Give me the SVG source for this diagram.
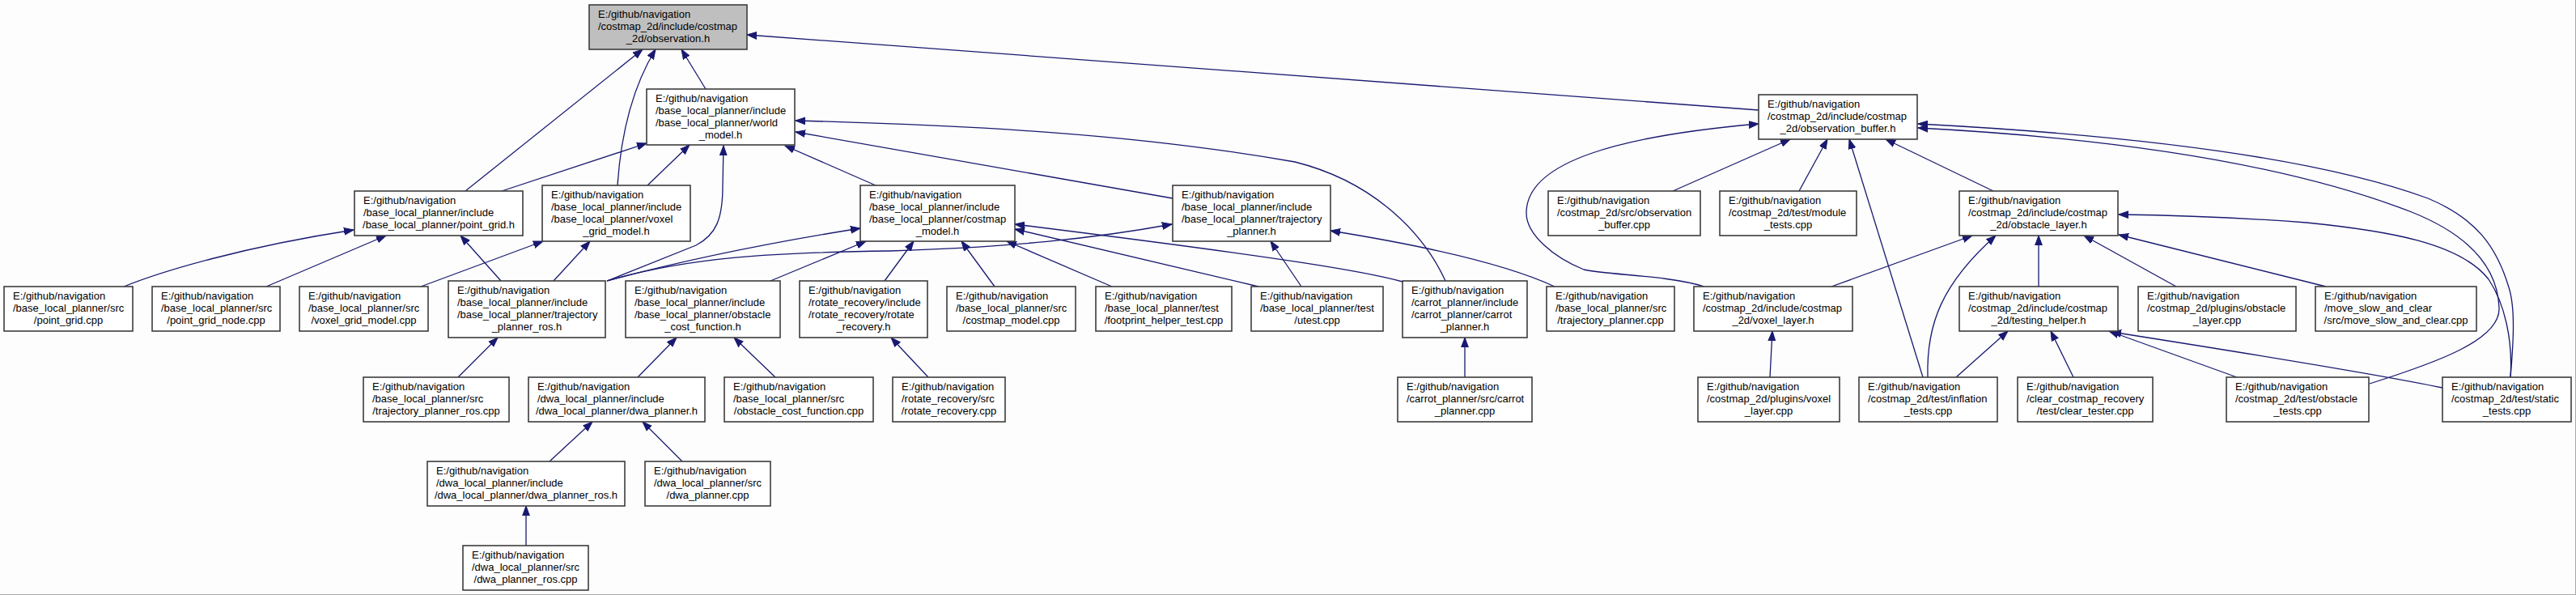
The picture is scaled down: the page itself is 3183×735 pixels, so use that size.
<svg xmlns="http://www.w3.org/2000/svg" width="3183" height="735" viewBox="0 0 3183 735">
<defs>
<style>
.bg{fill:#fcfdfc}
.node rect{fill:#ffffff;stroke:#3c3c3c;stroke-width:1.6}
#n0 rect{fill:#bfbfbf}
.node text{font-family:"Liberation Sans",Arial,Helvetica,sans-serif;font-size:13px;fill:#000}
.node text.c{text-anchor:middle}
#edges path{fill:none;stroke:#191970;stroke-width:1.3;marker-end:url(#ah)}
</style>
<marker id="ah" markerUnits="userSpaceOnUse" viewBox="0 0 13 10" markerWidth="13" markerHeight="10" refX="12" refY="5" orient="auto">
<path d="M0,0.6 L12,5 L0,9.4 z" fill="#191970" stroke="#191970" stroke-width="1"/>
</marker>
</defs>
<rect class="bg" x="0" y="0" width="3183" height="735"/>
<line x1="0" y1="734.5" x2="3183" y2="734.5" stroke="#a8a8a8" stroke-width="1"/>
<line x1="3182.5" y1="0" x2="3182.5" y2="735" stroke="#a8a8a8" stroke-width="1"/>

<g id="edges">
<path d="M575,236 L794,61"/>
<path d="M763,229 C767,170 780,110 810,61"/>
<path d="M872,110 L842,61"/>
<path d="M2173,136 L923,43"/>
<path d="M620,236 L799,177"/>
<path d="M800,229 L852,179"/>
<path d="M750,347 L860,303 C885,290 893,270 893,230 L894,180"/>
<path d="M1082,229 L970,180"/>
<path d="M1449,245 L983,163"/>
<path d="M1786,347 C1760,290 1700,225 1600,200 C1400,165 1200,155 983,149"/>
<path d="M952,347 L1070,298"/>
<path d="M1093,347 L1129,298"/>
<path d="M1229,354 L1188,298"/>
<path d="M1374,354 L1244,298"/>
<path d="M750,347 C850,320 950,300 1063,282"/>
<path d="M750,347 C850,318 950,312 1100,310 C1250,305 1350,295 1448,277"/>
<path d="M1555,354 L1254,283"/>
<path d="M1733,348 C1690,336 1600,320 1254,277"/>
<path d="M1608,354 L1570,298"/>
<path d="M1921,354 C1880,335 1800,310 1644,285"/>
<path d="M153,354 C200,335 300,305 437,284"/>
<path d="M329,354 L477,291"/>
<path d="M619,347 L569,291"/>
<path d="M520,354 L671,298"/>
<path d="M684,347 L729,298"/>
<path d="M566,466 L615,417"/>
<path d="M788,466 L836,417"/>
<path d="M958,466 L907,417"/>
<path d="M1147,466 L1101,417"/>
<path d="M679,570 L732,521"/>
<path d="M843,570 L794,521"/>
<path d="M650,674 L650,625"/>
<path d="M1810,466 L1810,417"/>
<path d="M2187,466 L2190,409"/>
<path d="M2067,236 L2212,172"/>
<path d="M2223,236 L2258,172"/>
<path d="M2106,354 C2060,340 1990,340 1957,333 C1920,318 1886,290 1886,263 C1886,200 2000,168 2173,153"/>
<path d="M2376,466 L2285,172"/>
<path d="M2463,236 L2330,172"/>
<path d="M2928,474 C3010,448 3090,420 3088,380 C3086,330 3050,290 2980,262 C2820,200 2600,170 2370,158"/>
<path d="M3102,466 C3106,420 3108,380 3100,355 C3085,305 3060,270 3000,245 C2850,190 2600,165 2370,153"/>
<path d="M3102,466 C3105,420 3095,375 3075,345 C3040,300 2950,285 2850,275 C2760,268 2700,266 2618,265"/>
<path d="M2874,354 L2618,290"/>
<path d="M2689,354 L2575,291"/>
<path d="M2519,354 L2519,291"/>
<path d="M2382,466 C2380,400 2400,350 2466,291"/>
<path d="M2263,354 L2437,291"/>
<path d="M2417,466 L2481,409"/>
<path d="M2562,466 L2534,409"/>
<path d="M2764,466 L2606,409"/>
<path d="M3018,479 C2950,465 2800,440 2609,410"/>
</g>

<g id="n0" class="node"><rect x="728" y="6" width="195" height="55"/><text x="739" y="21.5">E:/github/navigation</text><text x="739" y="36.5">/costmap_2d/include/costmap</text><text class="c" x="825.5" y="51.5">_2d/observation.h</text></g>
<g id="n1" class="node"><rect x="799" y="110" width="183" height="69"/><text x="810" y="125.5">E:/github/navigation</text><text x="810" y="140.5">/base_local_planner/include</text><text x="810" y="155.5">/base_local_planner/world</text><text class="c" x="890.5" y="170.5">_model.h</text></g>
<g id="n2" class="node"><rect x="438" y="236" width="208" height="55"/><text x="449" y="251.5">E:/github/navigation</text><text x="449" y="266.5">/base_local_planner/include</text><text class="c" x="542" y="281.5">/base_local_planner/point_grid.h</text></g>
<g id="n3" class="node"><rect x="670" y="229" width="183" height="69"/><text x="681" y="244.5">E:/github/navigation</text><text x="681" y="259.5">/base_local_planner/include</text><text x="681" y="274.5">/base_local_planner/voxel</text><text class="c" x="761.5" y="289.5">_grid_model.h</text></g>
<g id="n4" class="node"><rect x="1063" y="229" width="191" height="69"/><text x="1074" y="244.5">E:/github/navigation</text><text x="1074" y="259.5">/base_local_planner/include</text><text x="1074" y="274.5">/base_local_planner/costmap</text><text class="c" x="1158.5" y="289.5">_model.h</text></g>
<g id="n5" class="node"><rect x="1449" y="229" width="195" height="69"/><text x="1460" y="244.5">E:/github/navigation</text><text x="1460" y="259.5">/base_local_planner/include</text><text x="1460" y="274.5">/base_local_planner/trajectory</text><text class="c" x="1546.5" y="289.5">_planner.h</text></g>
<g id="n6" class="node"><rect x="5" y="354" width="159" height="55"/><text x="16" y="369.5">E:/github/navigation</text><text x="16" y="384.5">/base_local_planner/src</text><text class="c" x="84.5" y="399.5">/point_grid.cpp</text></g>
<g id="n7" class="node"><rect x="188" y="354" width="158" height="55"/><text x="199" y="369.5">E:/github/navigation</text><text x="199" y="384.5">/base_local_planner/src</text><text class="c" x="267" y="399.5">/point_grid_node.cpp</text></g>
<g id="n8" class="node"><rect x="370" y="354" width="159" height="55"/><text x="381" y="369.5">E:/github/navigation</text><text x="381" y="384.5">/base_local_planner/src</text><text class="c" x="449.5" y="399.5">/voxel_grid_model.cpp</text></g>
<g id="n9" class="node"><rect x="554" y="347" width="194" height="70"/><text x="565" y="362.5">E:/github/navigation</text><text x="565" y="377.5">/base_local_planner/include</text><text x="565" y="392.5">/base_local_planner/trajectory</text><text class="c" x="651" y="407.5">_planner_ros.h</text></g>
<g id="n10" class="node"><rect x="773" y="347" width="191" height="70"/><text x="784" y="362.5">E:/github/navigation</text><text x="784" y="377.5">/base_local_planner/include</text><text x="784" y="392.5">/base_local_planner/obstacle</text><text class="c" x="868.5" y="407.5">_cost_function.h</text></g>
<g id="n11" class="node"><rect x="988" y="347" width="158" height="70"/><text x="999" y="362.5">E:/github/navigation</text><text x="999" y="377.5">/rotate_recovery/include</text><text x="999" y="392.5">/rotate_recovery/rotate</text><text class="c" x="1067" y="407.5">_recovery.h</text></g>
<g id="n12" class="node"><rect x="1170" y="354" width="159" height="55"/><text x="1181" y="369.5">E:/github/navigation</text><text x="1181" y="384.5">/base_local_planner/src</text><text class="c" x="1249.5" y="399.5">/costmap_model.cpp</text></g>
<g id="n13" class="node"><rect x="1354" y="354" width="168" height="55"/><text x="1365" y="369.5">E:/github/navigation</text><text x="1365" y="384.5">/base_local_planner/test</text><text class="c" x="1438" y="399.5">/footprint_helper_test.cpp</text></g>
<g id="n14" class="node"><rect x="1546" y="354" width="163" height="55"/><text x="1557" y="369.5">E:/github/navigation</text><text x="1557" y="384.5">/base_local_planner/test</text><text class="c" x="1627.5" y="399.5">/utest.cpp</text></g>
<g id="n15" class="node"><rect x="1733" y="347" width="154" height="70"/><text x="1744" y="362.5">E:/github/navigation</text><text x="1744" y="377.5">/carrot_planner/include</text><text x="1744" y="392.5">/carrot_planner/carrot</text><text class="c" x="1810" y="407.5">_planner.h</text></g>
<g id="n16" class="node"><rect x="1911" y="354" width="158" height="55"/><text x="1922" y="369.5">E:/github/navigation</text><text x="1922" y="384.5">/base_local_planner/src</text><text class="c" x="1990" y="399.5">/trajectory_planner.cpp</text></g>
<g id="n17" class="node"><rect x="2093" y="354" width="196" height="55"/><text x="2104" y="369.5">E:/github/navigation</text><text x="2104" y="384.5">/costmap_2d/include/costmap</text><text class="c" x="2191" y="399.5">_2d/voxel_layer.h</text></g>
<g id="n18" class="node"><rect x="2173" y="117" width="196" height="55"/><text x="2184" y="132.5">E:/github/navigation</text><text x="2184" y="147.5">/costmap_2d/include/costmap</text><text class="c" x="2271" y="162.5">_2d/observation_buffer.h</text></g>
<g id="n19" class="node"><rect x="1913" y="236" width="188" height="55"/><text x="1924" y="251.5">E:/github/navigation</text><text x="1924" y="266.5">/costmap_2d/src/observation</text><text class="c" x="2007" y="281.5">_buffer.cpp</text></g>
<g id="n20" class="node"><rect x="2125" y="236" width="169" height="55"/><text x="2136" y="251.5">E:/github/navigation</text><text x="2136" y="266.5">/costmap_2d/test/module</text><text class="c" x="2209.5" y="281.5">_tests.cpp</text></g>
<g id="n21" class="node"><rect x="2421" y="236" width="196" height="55"/><text x="2432" y="251.5">E:/github/navigation</text><text x="2432" y="266.5">/costmap_2d/include/costmap</text><text class="c" x="2519" y="281.5">_2d/obstacle_layer.h</text></g>
<g id="n22" class="node"><rect x="2421" y="354" width="196" height="55"/><text x="2432" y="369.5">E:/github/navigation</text><text x="2432" y="384.5">/costmap_2d/include/costmap</text><text class="c" x="2519" y="399.5">_2d/testing_helper.h</text></g>
<g id="n23" class="node"><rect x="2642" y="354" width="195" height="55"/><text x="2653" y="369.5">E:/github/navigation</text><text x="2653" y="384.5">/costmap_2d/plugins/obstacle</text><text class="c" x="2739.5" y="399.5">_layer.cpp</text></g>
<g id="n24" class="node"><rect x="2861" y="354" width="199" height="55"/><text x="2872" y="369.5">E:/github/navigation</text><text x="2872" y="384.5">/move_slow_and_clear</text><text class="c" x="2960.5" y="399.5">/src/move_slow_and_clear.cpp</text></g>
<g id="n25" class="node"><rect x="449" y="466" width="180" height="55"/><text x="460" y="481.5">E:/github/navigation</text><text x="460" y="496.5">/base_local_planner/src</text><text class="c" x="539" y="511.5">/trajectory_planner_ros.cpp</text></g>
<g id="n26" class="node"><rect x="653" y="466" width="218" height="55"/><text x="664" y="481.5">E:/github/navigation</text><text x="664" y="496.5">/dwa_local_planner/include</text><text class="c" x="762" y="511.5">/dwa_local_planner/dwa_planner.h</text></g>
<g id="n27" class="node"><rect x="895" y="466" width="184" height="55"/><text x="906" y="481.5">E:/github/navigation</text><text x="906" y="496.5">/base_local_planner/src</text><text class="c" x="987" y="511.5">/obstacle_cost_function.cpp</text></g>
<g id="n28" class="node"><rect x="1103" y="466" width="139" height="55"/><text x="1114" y="481.5">E:/github/navigation</text><text x="1114" y="496.5">/rotate_recovery/src</text><text class="c" x="1172.5" y="511.5">/rotate_recovery.cpp</text></g>
<g id="n29" class="node"><rect x="1727" y="466" width="166" height="55"/><text x="1738" y="481.5">E:/github/navigation</text><text x="1738" y="496.5">/carrot_planner/src/carrot</text><text class="c" x="1810" y="511.5">_planner.cpp</text></g>
<g id="n30" class="node"><rect x="2098" y="466" width="175" height="55"/><text x="2109" y="481.5">E:/github/navigation</text><text x="2109" y="496.5">/costmap_2d/plugins/voxel</text><text class="c" x="2185.5" y="511.5">_layer.cpp</text></g>
<g id="n31" class="node"><rect x="2297" y="466" width="171" height="55"/><text x="2308" y="481.5">E:/github/navigation</text><text x="2308" y="496.5">/costmap_2d/test/inflation</text><text class="c" x="2382.5" y="511.5">_tests.cpp</text></g>
<g id="n32" class="node"><rect x="2493" y="466" width="167" height="55"/><text x="2504" y="481.5">E:/github/navigation</text><text x="2504" y="496.5">/clear_costmap_recovery</text><text class="c" x="2576.5" y="511.5">/test/clear_tester.cpp</text></g>
<g id="n33" class="node"><rect x="2751" y="466" width="176" height="55"/><text x="2762" y="481.5">E:/github/navigation</text><text x="2762" y="496.5">/costmap_2d/test/obstacle</text><text class="c" x="2839" y="511.5">_tests.cpp</text></g>
<g id="n34" class="node"><rect x="3018" y="466" width="159" height="55"/><text x="3029" y="481.5">E:/github/navigation</text><text x="3029" y="496.5">/costmap_2d/test/static</text><text class="c" x="3097.5" y="511.5">_tests.cpp</text></g>
<g id="n35" class="node"><rect x="528" y="570" width="244" height="55"/><text x="539" y="585.5">E:/github/navigation</text><text x="539" y="600.5">/dwa_local_planner/include</text><text class="c" x="650" y="615.5">/dwa_local_planner/dwa_planner_ros.h</text></g>
<g id="n36" class="node"><rect x="797" y="570" width="155" height="55"/><text x="808" y="585.5">E:/github/navigation</text><text x="808" y="600.5">/dwa_local_planner/src</text><text class="c" x="874.5" y="615.5">/dwa_planner.cpp</text></g>
<g id="n37" class="node"><rect x="572" y="674" width="155" height="55"/><text x="583" y="689.5">E:/github/navigation</text><text x="583" y="704.5">/dwa_local_planner/src</text><text class="c" x="649.5" y="719.5">/dwa_planner_ros.cpp</text></g>
</svg>
